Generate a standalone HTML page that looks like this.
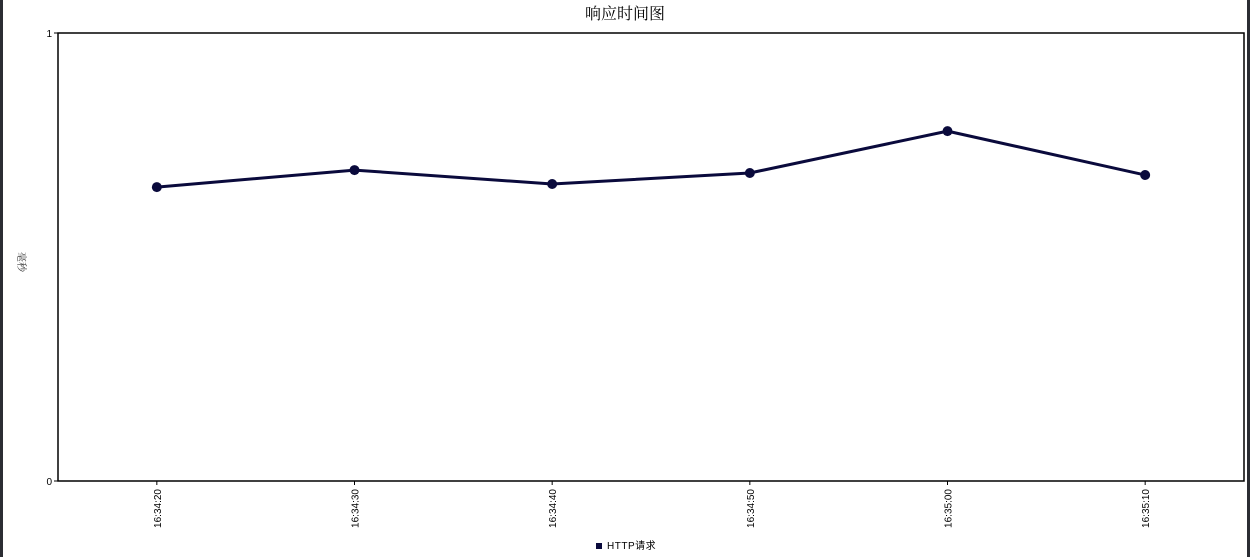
<!DOCTYPE html>
<html><head><meta charset="utf-8"><style>
body{margin:0;background:#fff;width:1250px;height:557px;overflow:hidden}
svg{display:block}
</style></head><body>
<svg width="1250" height="557" xmlns="http://www.w3.org/2000/svg">
<rect x="0" y="0" width="3" height="557" fill="#2b2d33"/>
<rect x="1247" y="0" width="3" height="557" fill="#2b2d33"/>
<text x="625" y="19" font-size="16" text-anchor="middle" font-family="'Liberation Serif','Noto Serif CJK SC',serif" fill="#000">响应时间图</text>
<rect x="58" y="33" width="1186" height="448" fill="#fff" stroke="#000" stroke-width="1.5"/>
<text x="18" y="262" font-size="10" text-anchor="middle" transform="rotate(90 18 262)" font-family="'Noto Serif CJK SC',serif" fill="#444">毫秒</text>
<g id="axes" font-family="'Liberation Sans',sans-serif" font-size="10" fill="#000"></g>
<g id="series"></g>
<rect x="596" y="543" width="6" height="6" fill="#0a0a3c"/>
<text x="607" y="549" font-size="10" font-family="'Liberation Sans','Noto Sans CJK SC',sans-serif" fill="#000" letter-spacing="0.5">HTTP请求</text>
</svg>
<script>
const categories=["16:34:20","16:34:30","16:34:40","16:34:50","16:35:00","16:35:10"];
const values=[0.656,0.694,0.663,0.6875,0.781,0.683];
const yTicks=[0,1];
const NS="http://www.w3.org/2000/svg";
const L=58,R=1244,T=33,B=481;
const step=(R-L)/categories.length;
function xs(i){return L+step*(i+0.5);}
function ys(v){return B-(B-T)*(v-0)/(1-0);}
const ax=document.getElementById('axes'),se=document.getElementById('series');
function mk(tag,attrs,parent){const e=document.createElementNS(NS,tag);for(const k in attrs)e.setAttribute(k,attrs[k]);parent.appendChild(e);return e;}
yTicks.forEach(t=>{
  const l=mk('line',{x1:L-4,x2:L,y1:ys(t),y2:ys(t),stroke:'#000'},ax);
  
  
  const tx=mk('text',{x:L-6,y:ys(t)+4,'text-anchor':'end'},ax);tx.textContent=t;
  
  
});
categories.forEach((c,i)=>{
  const x=xs(i);
  const l=mk('line',{x1:x,x2:x,y1:B,y2:B+4,stroke:'#000'},ax);
  
  
  const tx=mk('text',{x:x+4,y:B+8,'text-anchor':'end',transform:`rotate(-90 ${x+4} ${B+8})`},ax);tx.textContent=c;
  
  
});
const pts=values.map((v,i)=>xs(i)+','+ys(v)).join(' ');
const pl=mk('polyline',{points:pts,fill:'none',stroke:'#0a0a3c','stroke-width':3,'stroke-linejoin':'round'},se);


values.forEach((v,i)=>{
  const c=mk('circle',{cx:xs(i),cy:ys(v),r:5,fill:'#0a0a3c'},se);
  
  
});
</script>
</body></html>
